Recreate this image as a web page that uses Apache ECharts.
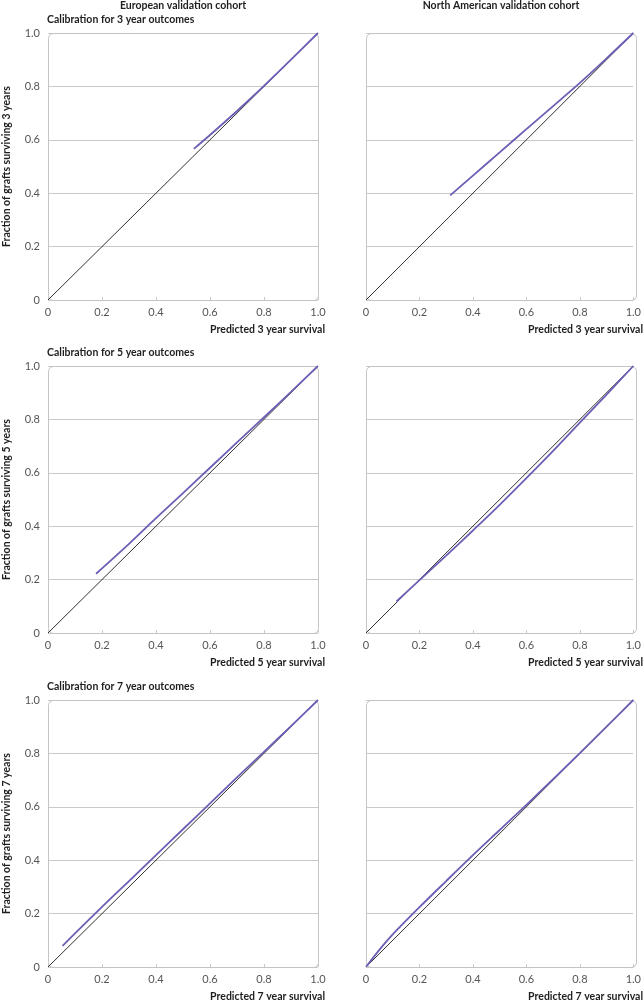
<!DOCTYPE html>
<html>
<head>
<meta charset="utf-8">
<script src="https://cdn.jsdelivr.net/npm/echarts@6/dist/echarts.min.js"></script>
<style>
html,body{margin:0;padding:0;background:#fff;}
#chart{width:644px;height:1000px;}
</style>
</head>
<body>
<div id="chart"></div>
<script>
// ---- data ----
const columnTitles = ['European validation cohort', 'North American validation cohort'];
const rowTitles = ['Calibration for 3 year outcomes', 'Calibration for 5 year outcomes', 'Calibration for 7 year outcomes'];
const xAxisNames = ['Predicted 3 year survival', 'Predicted 5 year survival', 'Predicted 7 year survival'];
const yAxisNames = ['Fraction of grafts surviving 3 years', 'Fraction of grafts surviving 5 years', 'Fraction of grafts surviving 7 years'];
const axisTicks = [0, 0.2, 0.4, 0.6, 0.8, 1.0];
const reference = [[0, 0], [1, 1]];

const euro3 = [[0.54, 0.566], [0.6, 0.618], [0.7, 0.708], [0.8, 0.802], [0.9, 0.9], [1.0, 1.0]];
const na3 = [[0.315, 0.392], [0.4, 0.466], [0.5, 0.553], [0.6, 0.64], [0.7, 0.726], [0.8, 0.813], [0.9, 0.905], [1.0, 1.0]];
const euro5 = [[0.178, 0.222], [0.3, 0.334], [0.4, 0.43], [0.5, 0.524], [0.6, 0.619], [0.7, 0.714], [0.8, 0.808], [0.9, 0.903], [1.0, 1.0]];
const na5 = [[0.114, 0.118], [0.2, 0.198], [0.3, 0.29], [0.4, 0.384], [0.5, 0.48], [0.6, 0.58], [0.7, 0.682], [0.8, 0.788], [0.9, 0.893], [1.0, 1.0]];
const euro7 = [[0.054, 0.079], [0.1, 0.126], [0.2, 0.225], [0.3, 0.322], [0.4, 0.419], [0.5, 0.516], [0.6, 0.613], [0.7, 0.71], [0.8, 0.806], [0.9, 0.902], [1.0, 1.0]];
const na7 = [[0.0, 0.0], [0.05, 0.064], [0.1, 0.122], [0.2, 0.224], [0.3, 0.322], [0.4, 0.419], [0.5, 0.513], [0.6, 0.607], [0.7, 0.704], [0.8, 0.801], [0.9, 0.9], [1.0, 1.0]];
const curves = [[euro3, na3], [euro5, na5], [euro7, na7]];

// ---- layout ----
const colLeft = [48, 366];
const plotW = 270;
const rowTop = [33, 366, 700];
const plotH = 267;
const purple = '#6a5fb4';
const gridGray = '#c9c9c9';
const FONT = 'Lato, "Open Sans", sans-serif';

const grids = [], xAxes = [], yAxes = [], series = [], graphics = [];
let gi = 0;
for (let r = 0; r < 3; r++) {
  for (let c = 0; c < 2; c++) {
    grids.push({left: colLeft[c], top: rowTop[r], width: plotW, height: plotH, containLabel: false});
    xAxes.push({
      type: 'value', gridIndex: gi, min: 0, max: 1, interval: 0.2,
      axisLine: {show: false},
      axisTick: {show: true, inside: true, length: 3, lineStyle: {color: gridGray}},
      splitLine: {show: false},
      axisLabel: {color: '#555', fontFamily: FONT, fontSize: 11, margin: 7,
        formatter: v => v === 0 ? '0' : v.toFixed(1)}
    });
    yAxes.push({
      type: 'value', gridIndex: gi, min: 0, max: 1, interval: 0.2,
      axisLine: {show: false}, axisTick: {show: false},
      splitLine: {show: true, lineStyle: {color: gridGray, width: 1}},
      axisLabel: {show: c === 0, color: '#555', fontFamily: FONT, fontSize: 11, margin: 8,
        formatter: v => v === 0 ? '0' : v.toFixed(1)}
    });
    series.push({
      type: 'line', xAxisIndex: gi, yAxisIndex: gi, data: reference, showSymbol: false,
      lineStyle: {color: '#1a1a1a', width: 0.9}, silent: true, z: 2
    });
    series.push({
      type: 'line', xAxisIndex: gi, yAxisIndex: gi, data: curves[r][c], showSymbol: false, smooth: 0.3,
      lineStyle: {color: purple, width: 1.8}, silent: true, z: 3
    });
    // rounded frame
    graphics.push({type: 'rect', shape: {x: colLeft[c] + 0.5, y: rowTop[r] + 0.5, width: plotW, height: plotH, r: 5},
      style: {fill: null, stroke: '#c4c4c4', lineWidth: 1}, z: 1, silent: true});
    // x axis name
    graphics.push({type: 'text', style: {text: xAxisNames[r], x: colLeft[c] + plotW + 7, y: rowTop[r] + plotH + 30,
      textAlign: 'right', textVerticalAlign: 'middle', font: 'bold 10.5px ' + FONT, fill: '#1e1e1e'}});
    gi++;
  }
  // row title
  graphics.push({type: 'text', style: {text: rowTitles[r], x: 47, y: rowTop[r] - 13,
    textAlign: 'left', textVerticalAlign: 'middle', font: 'bold 10.5px ' + FONT, fill: '#1e1e1e'}});
  // y axis name
  graphics.push({type: 'text', rotation: Math.PI / 2, x: 7, y: rowTop[r] + plotH / 2,
    style: {text: yAxisNames[r], x: 0, y: 0, textAlign: 'center', textVerticalAlign: 'middle', font: 'bold 10.5px ' + FONT, fill: '#1e1e1e'}});
}
for (let c = 0; c < 2; c++) {
  graphics.push({type: 'text', style: {text: columnTitles[c], x: colLeft[c] + plotW / 2, y: 6,
    textAlign: 'center', textVerticalAlign: 'middle', font: 'bold 10.5px ' + FONT, fill: '#1e1e1e'}});
}

const chart = echarts.init(document.getElementById('chart'), null, {renderer: 'canvas'});
chart.setOption({
  animation: false,
  backgroundColor: '#fff',
  grid: grids, xAxis: xAxes, yAxis: yAxes, series: series, graphic: graphics
});
</script>
</body>
</html>
